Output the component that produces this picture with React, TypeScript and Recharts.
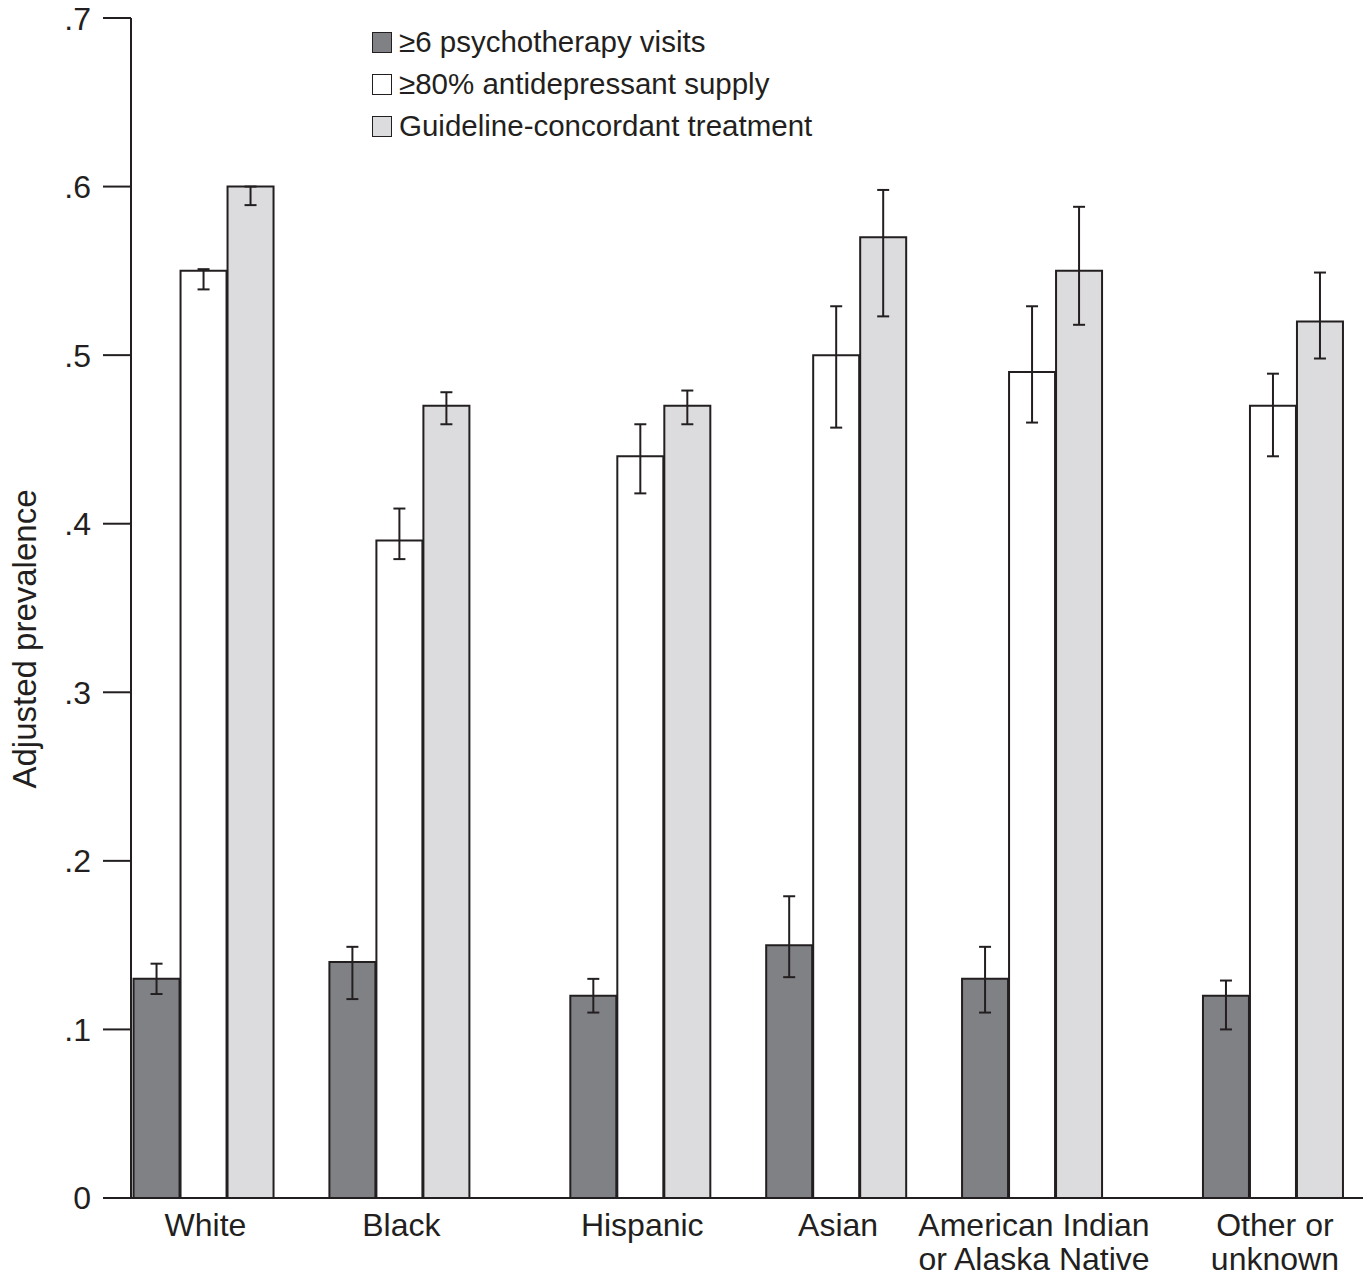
import React from "react";
import { BarChart, Bar, XAxis, YAxis, ErrorBar, Legend, Label } from "recharts";

// groups along the x axis (spacing in the original is uneven)
const groups = ["White", "Black", "Hispanic", "Asian", "American Indian or Alaska Native", "Other or unknown"];
const groupLines = [["White"], ["Black"], ["Hispanic"], ["Asian"], ["American Indian", "or Alaska Native"], ["Other or", "unknown"]];
const groupPos = [1, 2, 3.23, 4.23, 5.23, 6.46];

// ≥6 psychotherapy visits
const psychValue = [0.13, 0.14, 0.12, 0.15, 0.13, 0.12];
const psychLow = [0.121, 0.118, 0.11, 0.131, 0.11, 0.1];
const psychHigh = [0.139, 0.149, 0.13, 0.179, 0.149, 0.129];
// ≥80% antidepressant supply
const antiValue = [0.55, 0.39, 0.44, 0.5, 0.49, 0.47];
const antiLow = [0.539, 0.379, 0.418, 0.457, 0.46, 0.44];
const antiHigh = [0.551, 0.409, 0.459, 0.529, 0.529, 0.489];
// guideline-concordant treatment
const guideValue = [0.6, 0.47, 0.47, 0.57, 0.55, 0.52];
const guideLow = [0.589, 0.459, 0.459, 0.523, 0.518, 0.498];
const guideHigh = [0.6, 0.478, 0.479, 0.598, 0.588, 0.549];

const yTicks = [0, 0.1, 0.2, 0.3, 0.4, 0.5, 0.6, 0.7];

const seriesNames = ["≥6 psychotherapy visits", "≥80% antidepressant supply", "Guideline-concordant treatment"];
const seriesFills = ["#808185", "#ffffff", "#dcdcde"];

const INK = "#231f20";
const FONT = '"Liberation Sans", Arial, Helvetica, sans-serif';

const data = groups.map((g, i) => ({
  group: g,
  pos: groupPos[i],
  psych: psychValue[i],
  psychErr: [psychValue[i] - psychLow[i], psychHigh[i] - psychValue[i]],
  anti: antiValue[i],
  antiErr: [antiValue[i] - antiLow[i], antiHigh[i] - antiValue[i]],
  guide: guideValue[i],
  guideErr: [guideValue[i] - guideLow[i], guideHigh[i] - guideValue[i]],
}));

function GroupTick(props: any) {
  const { x, y, payload } = props;
  const idx = groupPos.indexOf(payload.value);
  const lines = idx >= 0 ? groupLines[idx] : [];
  return (
    <g>
      {lines.map((ln, k) => (
        <text key={k} x={x + 2} y={y + 38 + k * 34} textAnchor="middle" fontSize={32} fill={INK} fontFamily={FONT}>
          {ln}
        </text>
      ))}
    </g>
  );
}

function LegendBox() {
  return (
    <div style={{ fontFamily: FONT, color: INK, textAlign: "left" }}>
      {seriesNames.map((n, i) => (
        <div key={n} style={{ display: "flex", alignItems: "center", height: 42, fontSize: 29.5, whiteSpace: "nowrap" }}>
          <span style={{ display: "inline-block", width: 18, height: 19, background: seriesFills[i], border: `1.5px solid ${INK}`, marginRight: 7 }} />
          {n}
        </div>
      ))}
    </div>
  );
}

export default function App() {
  return (
    <div style={{ position: "absolute", left: 0, top: 0, fontFamily: FONT, background: "#fff" }}>
      <BarChart width={1363} height={1279} data={data} margin={{ top: 18, right: 0, bottom: 0, left: 0 }} barGap={1}>
        <XAxis
          dataKey="pos"
          type="number"
          domain={[0.63, 6.92]}
          ticks={groupPos}
          interval={0}
          height={81}
          tickLine={false}
          tickSize={0}
          tickMargin={0}
          axisLine={{ stroke: INK, strokeWidth: 2 }}
          tick={<GroupTick />}
        />
        <YAxis
          type="number"
          domain={[0, 0.7]}
          ticks={yTicks}
          width={131}
          tickSize={28}
          tickMargin={12}
          axisLine={{ stroke: INK, strokeWidth: 2 }}
          tickLine={{ stroke: INK, strokeWidth: 2 }}
          tick={{ fill: INK, fontSize: 32, fontFamily: FONT }}
          tickFormatter={(v: number) => (v === 0 ? "0" : "." + Math.round(v * 10))}
        >
          <Label
            content={() => (
              <text x={36} y={639} transform="rotate(-90 36 639)" textAnchor="middle" fontSize={33} fill={INK} fontFamily={FONT}>
                Adjusted prevalence
              </text>
            )}
          />
        </YAxis>
        <Legend
          layout="vertical"
          align="center"
          verticalAlign="middle"
          content={<LegendBox />}
          wrapperStyle={{ position: "absolute", top: 21, left: 372, width: "auto", height: "auto" }}
        />
        <Bar dataKey="psych" name={seriesNames[0]} fill={seriesFills[0]} stroke={INK} strokeWidth={2} barSize={46} isAnimationActive={false}>
          <ErrorBar dataKey="psychErr" width={6} stroke={INK} strokeWidth={2} direction="y" />
        </Bar>
        <Bar dataKey="anti" name={seriesNames[1]} fill={seriesFills[1]} stroke={INK} strokeWidth={2} barSize={46} isAnimationActive={false}>
          <ErrorBar dataKey="antiErr" width={6} stroke={INK} strokeWidth={2} direction="y" />
        </Bar>
        <Bar dataKey="guide" name={seriesNames[2]} fill={seriesFills[2]} stroke={INK} strokeWidth={2} barSize={46} isAnimationActive={false}>
          <ErrorBar dataKey="guideErr" width={6} stroke={INK} strokeWidth={2} direction="y" />
        </Bar>
      </BarChart>
    </div>
  );
}
